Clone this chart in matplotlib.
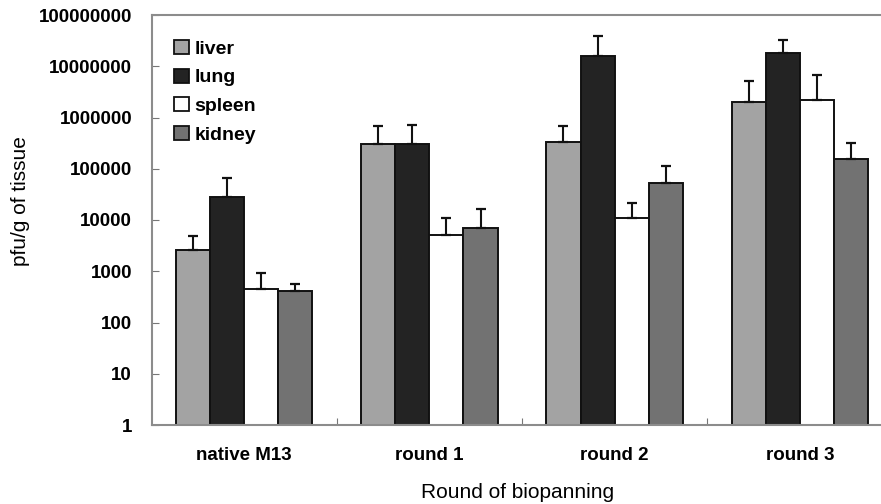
import matplotlib
matplotlib.use("Agg")
import matplotlib.pyplot as plt
import numpy as np
from matplotlib.patches import Patch

categories = ["native M13", "round 1", "round 2", "round 3"]
series_names = ["liver", "lung", "spleen", "kidney"]
liver = [2640, 307000, 336000, 2000000]
lung = [27500, 310000, 15800000, 18000000]
spleen = [460, 5200, 11000, 2200000]
kidney = [405, 7100, 53000, 156000]
liver_err = [4800, 690000, 690000, 5100000]
lung_err = [66000, 700000, 39000000, 32000000]
spleen_err = [910, 11000, 21800, 6700000]
kidney_err = [575, 16700, 115000, 320000]
ytick_vals = [1, 10, 100, 1000, 10000, 100000, 1000000, 10000000, 100000000]

values = [liver, lung, spleen, kidney]
errtops = [liver_err, lung_err, spleen_err, kidney_err]
colors = ["#a3a3a3", "#232323", "#ffffff", "#727272"]

plt.rcParams['font.family'] = ['Liberation Sans', 'DejaVu Sans']

W, H = 881, 504
fig = plt.figure(figsize=(W / 100, H / 100), dpi=100)
ax = fig.add_axes([151.5 / W, (H - 425) / H, 741 / W, 410 / H])

x = np.arange(len(categories))
w = 0.184
for i, (vals, tops, c) in enumerate(zip(values, errtops, colors)):
    xs = x + (i - 1.5) * w
    vals = np.array(vals, dtype=float)
    tops = np.array(tops, dtype=float)
    ax.bar(xs, vals, width=w, color=c, edgecolor="#111111", linewidth=1.4,
           zorder=2, bottom=0)
    ax.errorbar(xs, vals, yerr=[np.zeros_like(vals), tops - vals], fmt='none',
                ecolor="#111111", elinewidth=1.5, capsize=3.3, capthick=1.6,
                zorder=3)

ax.set_yscale('log')
ax.set_ylim(1, 1e8)
ax.set_xlim(-0.5, 3.5)
ax.set_yticks(ytick_vals)
ax.set_yticklabels([str(v) for v in ytick_vals], fontsize=13.5, fontweight='bold')
ax.yaxis.set_minor_locator(matplotlib.ticker.NullLocator())
ax.set_xticks([0.5, 1.5, 2.5], minor=False)
ax.set_xticklabels([])
ax.set_xticks(x, minor=True)
ax.set_xticklabels(categories, minor=True, fontsize=13.5, fontweight='bold')
ax.tick_params(axis='x', which='minor', length=0, pad=16)
ax.tick_params(axis='x', which='major', direction='in', length=5, color='#777777')
ax.tick_params(axis='y', which='major', direction='in', length=5, color='#777777', pad=14)

for s in ['top', 'left', 'bottom', 'right']:
    ax.spines[s].set_color('#8c8c8c')
    ax.spines[s].set_linewidth(1.5)

fig.text(21 / W, 1 - 201 / H, "pfu/g of tissue", rotation=90, fontsize=15,
         ha='center', va='center')
fig.text(518 / W, 1 - 493 / H, "Round of biopanning", fontsize=15,
         ha='center', va='center')

handles = [Patch(facecolor=c, edgecolor='#111111', linewidth=1.3) for c in colors]
leg = ax.legend(handles, series_names, loc='upper left',
                bbox_to_anchor=(174 / W, 1 - 40 / H), bbox_transform=fig.transFigure,
                frameon=False, borderpad=0, borderaxespad=0,
                handlelength=0.75, handleheight=0.75, handletextpad=0.3,
                labelspacing=0.55, prop={'size': 14, 'weight': 'bold'})

fig.savefig("out.png", dpi=100)
